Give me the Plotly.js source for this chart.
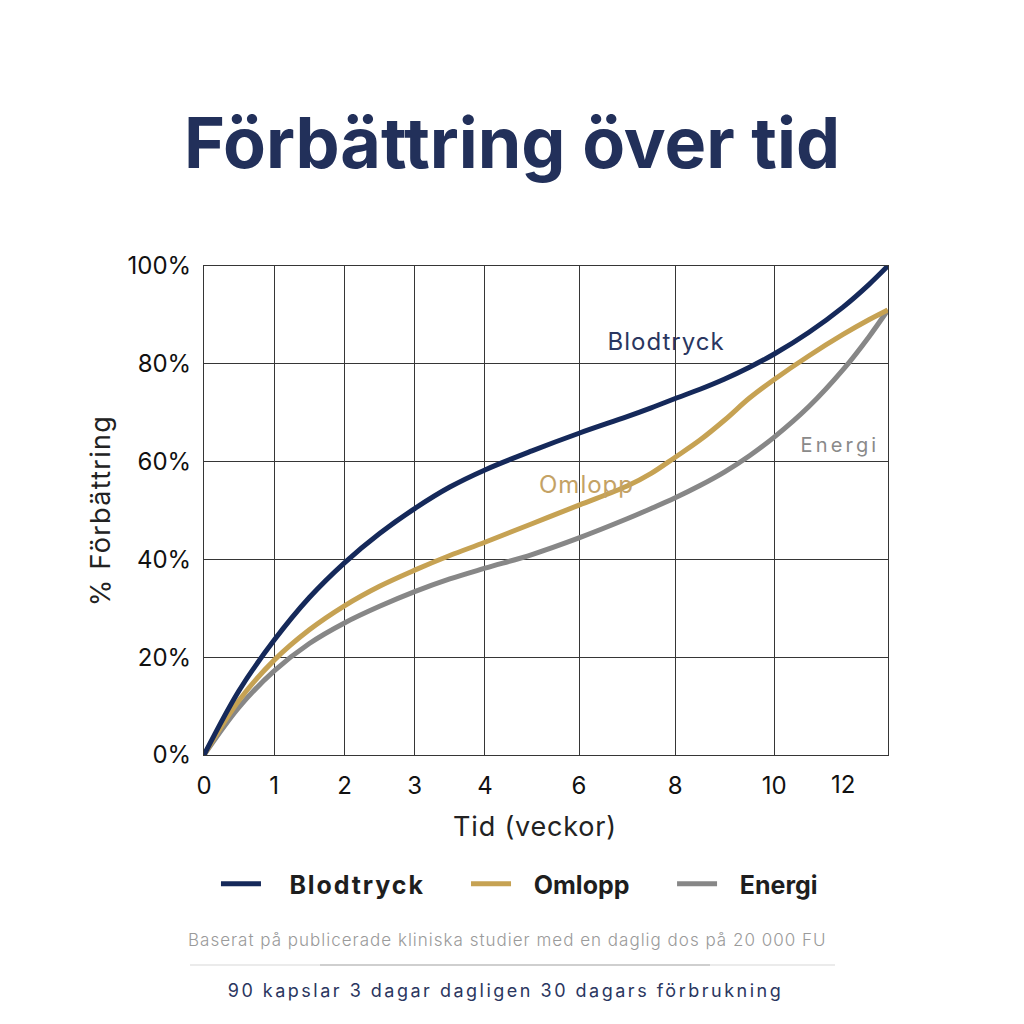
<!DOCTYPE html>
<html>
<head>
<meta charset="utf-8">
<script src="https://cdn.plot.ly/plotly-3.0.1.min.js"></script>
<style>
  html, body { margin: 0; padding: 0; background: #ffffff; }
  #chart { width: 1024px; height: 1024px; }
  g.annotation[data-index="0"] text { letter-spacing: 1px; }
  g.annotation[data-index="1"] text { letter-spacing: 1px; }
  g.annotation[data-index="2"] text { letter-spacing: 3.2px; }
  g.annotation[data-index="3"] text { letter-spacing: 1px; }
  g.annotation[data-index="4"] text { letter-spacing: 2.5px; }
  text.ytitle { letter-spacing: 1.3px; }
  text.xtitle { letter-spacing: 0.8px; transform: translate(-11px, 0px); }
  text.legendtext { letter-spacing: 1.9px; }
</style>
</head>
<body>
<div id="chart"></div>
<script>
// ---- data ----
const tickWeeks = [0, 1, 2, 3, 4, 6, 8, 10, 12];
const tickLabels = ['0', '1', '2', '3', '4', '6', '8', '10', '12'];
const weeks = [0, 0.5, 1, 1.5, 2, 2.5, 3, 3.5, 4, 5, 6, 7, 7.5, 8, 8.5, 9, 9.5, 10, 11, 12, 12.75, 13.3];
const blodtryck = [0, 13.2, 23.5, 32.2, 39.3, 45.3, 50.4, 54.8, 58.3, 62.2, 65.8, 69.2, 71.0, 72.9, 74.8, 76.9, 79.3, 82.0, 86.4, 91.6, 96.2, 100];
const omlopp    = [0, 11.2, 19.4, 25.6, 30.5, 34.5, 37.8, 40.8, 43.5, 47.3, 51.1, 55.0, 57.6, 60.9, 64.4, 68.5, 73.0, 76.8, 81.6, 86.0, 89.0, 91.0];
const energi    = [0, 9.8, 17.2, 22.8, 27.0, 30.4, 33.4, 36.0, 38.2, 41.0, 44.4, 48.3, 50.4, 52.6, 55.1, 57.9, 61.2, 65.0, 71.2, 78.8, 85.5, 91.0];
const seriesNames = ['Blodtryck', 'Omlopp', 'Energi'];
const yTicks = [0, 20, 40, 60, 80, 100];

// ---- layout of the uneven week axis (slot position of each tick week) ----
const tickSlots = [0, 1, 2, 3, 4, 5.34, 6.71, 8.12, 9.10];
const axisEndSlot = 9.74;
function weekToSlot(w) {
  for (let i = 0; i < tickWeeks.length - 1; i++) {
    if (w <= tickWeeks[i + 1]) {
      const t = (w - tickWeeks[i]) / (tickWeeks[i + 1] - tickWeeks[i]);
      return tickSlots[i] + t * (tickSlots[i + 1] - tickSlots[i]);
    }
  }
  const n = tickWeeks.length - 1;
  const slope = (tickSlots[n] - tickSlots[n - 1]) / (tickWeeks[n] - tickWeeks[n - 1]);
  return tickSlots[n] + (w - tickWeeks[n]) * slope;
}
const xs = weeks.map(weekToSlot);

const colors = ['#15295a', '#c6a253', '#878787'];
const values = [blodtryck, omlopp, energi];
const legends = ['legend', 'legend2', 'legend3'];
const legendPad = '\u00A0\u00A0\u00A0';

const traces = values.map((v, i) => ({
  x: xs, y: v, type: 'scatter', mode: 'lines', name: legendPad + seriesNames[i],
  line: { color: colors[i], width: 5, shape: 'spline', smoothing: 1 },
  cliponaxis: false, legend: legends[i], hoverinfo: 'skip'
}));
const ordered = [traces[2], traces[1], traces[0]];

const gridCol = '#363636';
const tickFont = { family: 'Inter, sans-serif', size: 24, color: '#111' };
const legendFont = { family: 'Inter, sans-serif', size: 25, color: '#1e1e1e', weight: 700 };
function legendAt(x) {
  return { x: x, xref: 'container', y: 0.1367, yref: 'container', xanchor: 'left', yanchor: 'middle',
           orientation: 'h', font: legendFont, bgcolor: 'rgba(0,0,0,0)', itemwidth: 40,
           entrywidth: 200, entrywidthmode: 'pixels' };
}

const layout = {
  width: 1024, height: 1024,
  paper_bgcolor: '#ffffff', plot_bgcolor: '#ffffff',
  margin: { l: 204, r: 136, t: 266, b: 269 },
  title: { text: 'Förbättring över tid', x: 0.5, xref: 'container', xanchor: 'center',
           y: 1 - 143 / 1024, yref: 'container', yanchor: 'middle',
           font: { family: 'Inter, sans-serif', size: 70, color: '#22305a', weight: 700 } },
  xaxis: {
    range: [0, axisEndSlot], tickmode: 'array',
    tickvals: tickSlots.slice(0, 8), ticktext: tickLabels.slice(0, 8),
    showgrid: true, gridcolor: gridCol, gridwidth: 1,
    showline: true, linecolor: gridCol, linewidth: 1, mirror: true,
    zeroline: false, ticks: 'outside', ticklen: 9, tickcolor: 'rgba(0,0,0,0)',
    tickfont: tickFont,
    title: { text: 'Tid (veckor)', standoff: 18,
             font: { family: 'Inter, sans-serif', size: 27, color: '#222' } },
    fixedrange: true
  },
  yaxis: {
    range: [0, 100], tickmode: 'array', tickvals: yTicks, ticktext: yTicks.map(v => v + '%'),
    showgrid: true, gridcolor: gridCol, gridwidth: 1,
    showline: true, linecolor: gridCol, linewidth: 1, mirror: true,
    zeroline: false, ticks: 'outside', ticklen: 7, tickcolor: 'rgba(0,0,0,0)',
    tickfont: tickFont,
    title: { text: '% Förbättring', standoff: 9,
             font: { family: 'Inter, sans-serif', size: 27, color: '#222' } },
    fixedrange: true
  },
  legend: legendAt(0.2109),
  legend2: legendAt(0.4551),
  legend3: legendAt(0.6563),
  annotations: [
    { text: 'Blodtryck', x: weekToSlot(7.8), y: 84.5, xref: 'x', yref: 'y', showarrow: false,
      xanchor: 'center', yanchor: 'middle',
      font: { family: 'Inter, sans-serif', size: 24, color: '#2a3660' } },
    { text: 'Omlopp', x: weekToSlot(6.15), y: 55.4, xref: 'x', yref: 'y', showarrow: false,
      xanchor: 'center', yanchor: 'middle',
      font: { family: 'Inter, sans-serif', size: 24, color: '#c4a265' } },
    { text: 'Energi', x: weekToSlot(11.9), y: 63.4, xref: 'x', yref: 'y', showarrow: false,
      xanchor: 'center', yanchor: 'middle',
      font: { family: 'Inter, sans-serif', size: 20, color: '#8a8a8a' } },
    { text: 'Baserat på publicerade kliniska studier med en daglig dos på 20 000 FU',
      x: (507 - 204) / 684, y: (755 - 940) / 489, xref: 'paper', yref: 'paper', showarrow: false,
      xanchor: 'center', yanchor: 'middle',
      font: { family: 'Inter, sans-serif', size: 17, color: '#9a9a9a', weight: 300 } },
    { text: '90 kapslar 3 dagar dagligen 30 dagars förbrukning',
      x: (505 - 204) / 684, y: (755 - 990) / 489, xref: 'paper', yref: 'paper', showarrow: false,
      xanchor: 'center', yanchor: 'middle',
      font: { family: 'Inter, sans-serif', size: 18, color: '#2a3660' } },
    { text: tickLabels[8], x: tickSlots[8], y: (755 - 784) / 489, xref: 'x', yref: 'paper', showarrow: false,
      xanchor: 'center', yanchor: 'middle', font: tickFont }
  ],
  shapes: [
    { type: 'line', xref: 'paper', yref: 'paper', x0: (190 - 204) / 684, x1: (835 - 204) / 684,
      y0: (755 - 965) / 489, y1: (755 - 965) / 489, line: { color: '#e4e4e4', width: 1.5 } },
    { type: 'line', xref: 'paper', yref: 'paper', x0: (320 - 204) / 684, x1: (710 - 204) / 684,
      y0: (755 - 965) / 489, y1: (755 - 965) / 489, line: { color: '#c6c6c6', width: 1.5 } }
  ],
  showlegend: true
};

Plotly.newPlot('chart', ordered, layout, { displayModeBar: false, staticPlot: true });
</script>
</body>
</html>
